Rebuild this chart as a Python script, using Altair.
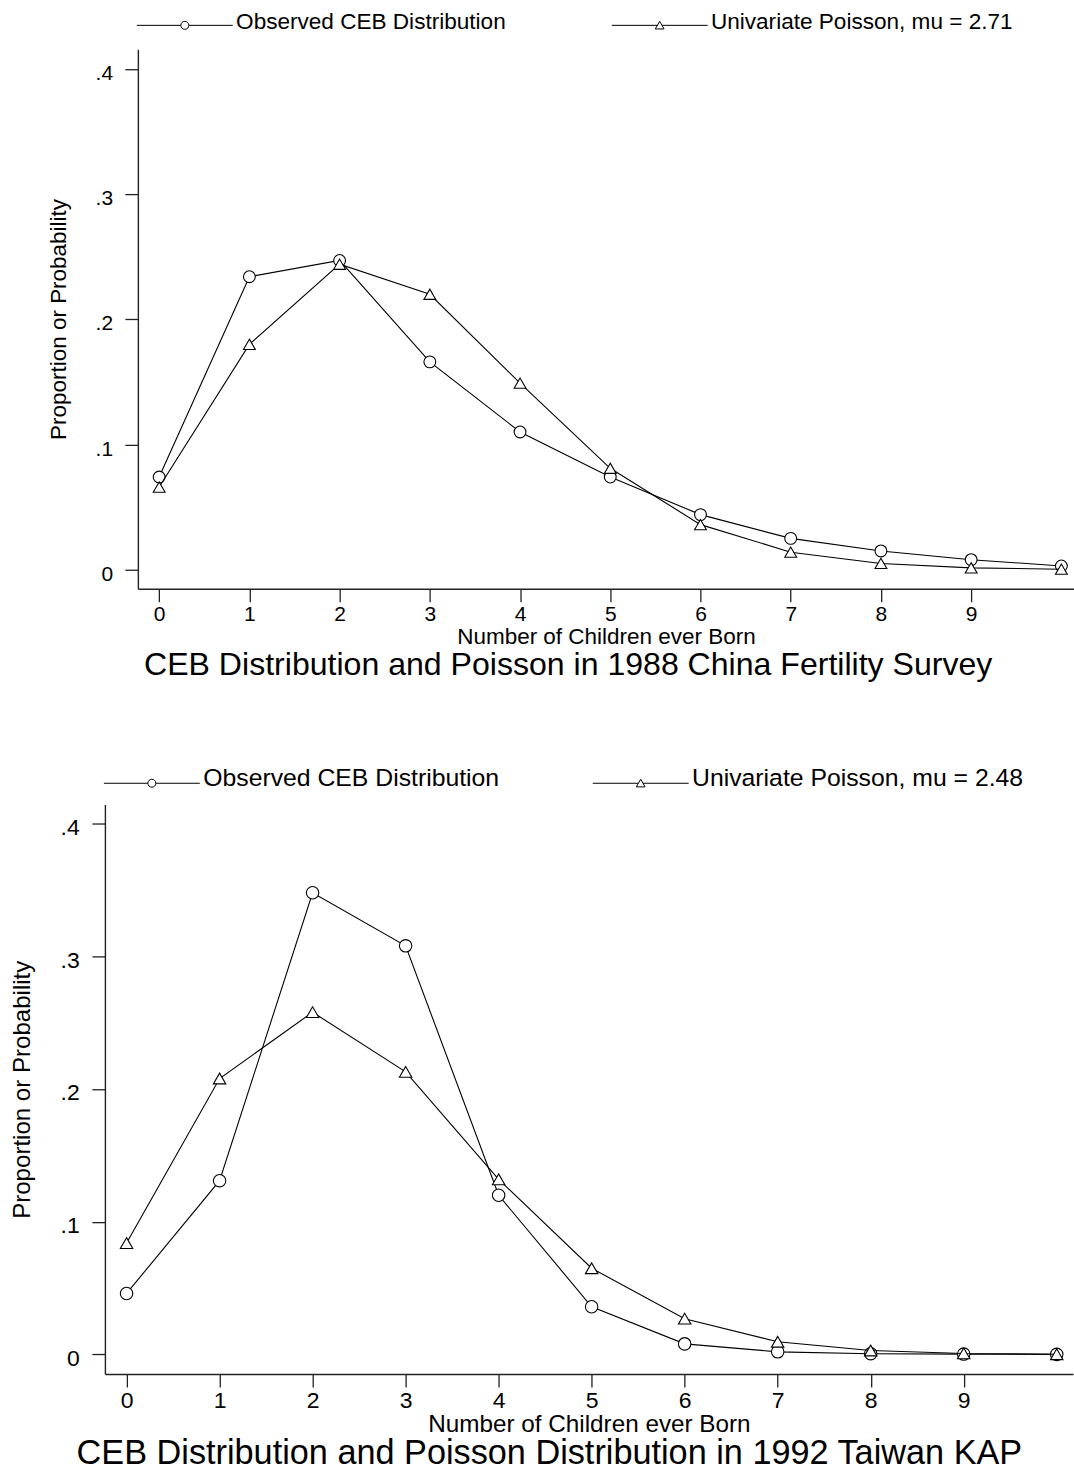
import altair as alt
import pandas as pd

# Number of children ever born (0 .. 10+)
children = list(range(11))
x_tick_values = list(range(10))
y_tick_values = [0, 0.1, 0.2, 0.3, 0.4]

# 1988 China Fertility Survey
china_observed = [0.074, 0.234, 0.247, 0.166, 0.110, 0.074, 0.044, 0.025, 0.015, 0.008, 0.003]
china_poisson = [0.066, 0.180, 0.244, 0.220, 0.149, 0.081, 0.036, 0.014, 0.005, 0.0015, 0.0004]
china_series = ["Observed CEB Distribution", "Univariate Poisson, mu = 2.71"]
china_title = "CEB Distribution and Poisson in 1988 China Fertility Survey"

# 1992 Taiwan KAP
taiwan_observed = [0.046, 0.131, 0.348, 0.308, 0.120, 0.036, 0.008, 0.002, 0.0006, 0.0003, 0.0001]
taiwan_poisson = [0.084, 0.208, 0.258, 0.213, 0.132, 0.065, 0.027, 0.0096, 0.003, 0.0008, 0.0002]
taiwan_series = ["Observed CEB Distribution", "Univariate Poisson, mu = 2.48"]
taiwan_title = "CEB Distribution and Poisson Distribution in 1992 Taiwan KAP"

FONT = "Liberation Sans"
Y_LABELS = "datum.value == 0 ? '0' : replace(format(datum.value, '.1f'), '0.', '.')"


def legend_paths(dy):
    """Legend keys: a line sample with the hollow marker in its middle."""
    circle = (f"M-12,{dy}H-1M1,{dy}H12"
              f"M1,{dy}A1,1,0,1,1,-1,{dy}A1,1,0,1,1,1,{dy}")
    tri = (f"M-12,{dy}H-0.58M0.58,{dy}H12"
           f"M0,{dy - 1.0}L1.1,{dy + 0.905}L-1.1,{dy + 0.905}Z")
    return [circle, tri]


def panel(observed, poisson, names, title, p):
    df = pd.DataFrame({
        "k": children * 2,
        "value": observed + poisson,
        "series": [names[0]] * len(children) + [names[1]] * len(children),
    })
    x = alt.X("k:Q",
              scale=alt.Scale(domain=p["xdom"], nice=False, zero=False),
              axis=alt.Axis(values=x_tick_values, grid=False, title="Number of Children ever Born",
                            titleFont=FONT, titleFontSize=p["xt_fs"], titleFontWeight="normal",
                            titleColor="black", titleBaseline="alphabetic", titleY=p["xt_y"],
                            labelFont=FONT, labelFontSize=p["tick_fs"], labelColor="black",
                            labelBaseline="alphabetic", labelPadding=p["xl_pad"],
                            labelFlush=False, labelOverlap=False,
                            tickSize=13, tickWidth=1.3, tickColor="#222",
                            domainColor="#222", domainWidth=1.4))
    y = alt.Y("value:Q",
              scale=alt.Scale(domain=p["ydom"], nice=False, zero=False),
              axis=alt.Axis(values=y_tick_values, labelExpr=Y_LABELS, grid=False,
                            title="Proportion or Probability",
                            titleFont=FONT, titleFontSize=p["yt_fs"], titleFontWeight="normal",
                            titleColor="black", titleAngle=270, titleAlign="center",
                            titleBaseline="alphabetic", titleX=p["yt_x"], titleY=p["h"] / 2,
                            labelFont=FONT, labelFontSize=p["tick_fs"], labelColor="black",
                            labelAlign="right", labelBaseline="alphabetic",
                            labelPadding=p["yl_pad"], labelOffset=10.6,
                            labelFlush=False, labelOverlap=False,
                            tickSize=13, tickWidth=1.3, tickColor="#222",
                            domainColor="#222", domainWidth=1.4))
    base = alt.Chart(df).encode(x=x, y=y)
    obs = base.transform_filter(alt.datum.series == names[0])
    poi = base.transform_filter(alt.datum.series == names[1])

    obs_line = obs.mark_line(color="black", strokeWidth=1.1)
    obs_pts = obs.mark_point(shape="circle", filled=True, fill="white", stroke="black",
                             strokeWidth=1.1, opacity=1, size=p["msize"])
    poi_line = poi.mark_line(color="black", strokeWidth=1.1)
    poi_pts = poi.mark_point(shape="triangle-up", filled=True, fill="white", stroke="black",
                             strokeWidth=1.1, opacity=1, size=p["msize"])

    # legend keys only (no marks drawn by this layer)
    half = p["lg_fs"] / 2
    key = base.transform_filter("datum.k < 0").mark_point(
        filled=False, color="black", opacity=1
    ).encode(
        shape=alt.Shape("series:N",
                        scale=alt.Scale(domain=names, range=legend_paths(p["key_dy"])),
                        legend=alt.Legend(orient="none", legendX=p["lg_x"], legendY=p["lg_y"],
                                          direction="horizontal", title=None, padding=0,
                                          symbolSize=64, symbolOffset=48 - half,
                                          symbolStrokeColor="black", symbolFillColor="white",
                                          symbolStrokeWidth=1, symbolOpacity=1,
                                          labelOffset=p["lg_gap"] - 48 - half, labelFont=FONT,
                                          labelFontSize=p["lg_fs"], labelColor="black",
                                          labelLimit=600, columnPadding=p["lg_colpad"]))
    )

    return alt.layer(obs_line, obs_pts, poi_line, poi_pts, key).properties(
        width=p["w"], height=p["h"],
        title=alt.TitleParams(text=title, orient="bottom", anchor="middle", frame="group",
                              font=FONT, fontSize=p["title_fs"], fontWeight="normal",
                              color="black", baseline="alphabetic",
                              offset=p["title_off"], dx=p["title_dx"]),
    )


def indent(width):
    # empty strip that sets the left margin of a row
    return alt.Chart(pd.DataFrame({"k": [0]})).mark_point(size=0, opacity=0).encode(
        x=alt.value(0), y=alt.value(0)
    ).properties(width=width, height=1)


china = panel(china_observed, china_poisson, china_series, china_title, dict(
    w=937, h=540, xdom=[-0.236, 10.14], ydom=[-0.0152, 0.4157],
    tick_fs=21, xt_fs=22.5, yt_fs=22.5, lg_fs=22.6, title_fs=32.1,
    xt_y=54.7, xl_pad=19, yl_pad=12.3, yt_x=-72.9,
    msize=140, key_dy=0.78, lg_x=137, lg_y=-38.4, lg_gap=99.3, lg_colpad=103.3,
    title_off=26.8, title_dx=-37.8,
))

taiwan = panel(taiwan_observed, taiwan_poisson, taiwan_series, taiwan_title, dict(
    w=969, h=570, xdom=[-0.233, 10.175], ydom=[-0.0147, 0.4145],
    tick_fs=23, xt_fs=24.3, yt_fs=24.1, lg_fs=24.8, title_fs=34.3,
    xt_y=57.7, xl_pad=21, yl_pad=12.7, yt_x=-75.7,
    msize=155, key_dy=1.0, lg_x=104, lg_y=-38.1, lg_gap=99.4, lg_colpad=91.3,
    title_off=27.0, title_dx=-39.6,
))

chart = alt.vconcat(
    alt.hconcat(indent(46.1), china, spacing=0),
    alt.hconcat(indent(10), taiwan, spacing=0),
    spacing=84,
).resolve_scale(
    shape="independent"
).properties(
    padding={"left": 0, "top": 9.6, "right": 0, "bottom": 0},
    background="white",
).configure(font=FONT).configure_view(stroke=None)

chart.save("out.html", embed_options={"renderer": "svg", "actions": False})
